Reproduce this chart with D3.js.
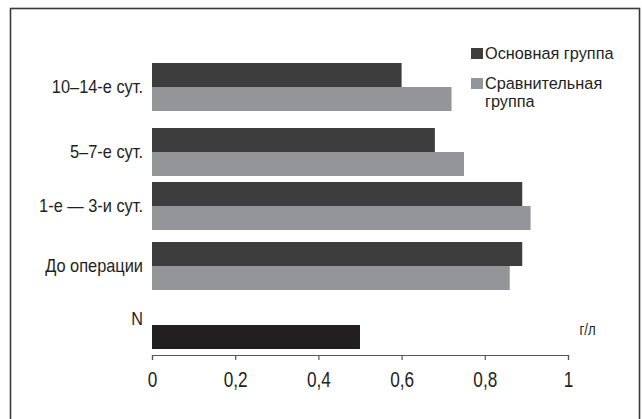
<!DOCTYPE html>
<html><head><meta charset="utf-8">
<script src="https://cdn.jsdelivr.net/npm/d3@7"></script>
<style>
body{margin:0;background:#fff;}
svg{display:block;font-family:"Liberation Sans",Arial,sans-serif;}
</style></head>
<body>
<svg id="chart" width="642" height="419"></svg>
<script>
const categories = ["10–14-е сут.", "5–7-е сут.", "1-е — 3-и сут.", "До операции"];
const seriesNames = ["Основная группа", "Сравнительная группа"];
const mainGroup = [0.60, 0.68, 0.89, 0.89];
const compareGroup = [0.72, 0.75, 0.91, 0.86];
const normLabel = "N";
const normValue = 0.50;
const tickValues = [0, 0.2, 0.4, 0.6, 0.8, 1];
const unitLabel = "г/л";

const colors = {main: "#3d3d3e", compare: "#949598", norm: "#231f20", text: "#231f20"};

const svg = d3.select("#chart");

function addText(parent, x, y, str, size, sx, anchor) {
  const gg = parent.append("g").attr("transform", `translate(${x},${y}) scale(${sx},1)`);
  return gg.append("text").attr("x", 0).attr("y", 0)
    .attr("text-anchor", anchor || "start")
    .attr("font-size", size).attr("fill", colors.text).text(str);
}

// frame
svg.append("rect").attr("x", 10.5).attr("y", 8.5).attr("width", 629).attr("height", 420)
  .attr("fill", "none").attr("stroke", "#3a3a3a").attr("stroke-width", 1.6);

const x = d3.scaleLinear().domain([0, 1]).range([152, 568]);
const groupTop = d3.scaleOrdinal().domain(categories).range([63, 128, 182, 242]);
const sub = d3.scaleBand().domain(["main", "compare"]).range([0, 48]);

const rows = categories.map((c, i) => ({cat: c, main: mainGroup[i], compare: compareGroup[i]}));

const g = svg.append("g");
rows.forEach(r => {
  ["main", "compare"].forEach(k => {
    g.append("rect")
      .attr("x", x(0))
      .attr("y", groupTop(r.cat) + sub(k))
      .attr("width", x(r[k]) - x(0))
      .attr("height", sub.bandwidth())
      .attr("fill", colors[k]);
  });
  addText(g, 143, groupTop(r.cat) + sub.bandwidth() + 5.5, r.cat, 18, 0.91, "end");
});

// norm bar
const normY = d3.scaleBand().domain([normLabel]).range([325, 349]);
g.append("rect")
  .attr("x", x(0)).attr("y", normY(normLabel))
  .attr("width", x(normValue) - x(0)).attr("height", normY.bandwidth())
  .attr("fill", colors.norm);
addText(g, 143, 325, normLabel, 18, 0.9, "end");

// axis
const axis = d3.axisBottom(x).tickValues(tickValues)
  .tickFormat(d => String(d).replace(".", ","))
  .tickSizeInner(5).tickSizeOuter(5);
const ax = svg.append("g").attr("transform", "translate(0,355)").call(axis);
ax.select(".domain").attr("stroke", "#555").attr("stroke-width", 1.2);
ax.selectAll(".tick line").attr("stroke", "#555").attr("stroke-width", 1.2);
ax.selectAll(".tick text").attr("y", 32).attr("dy", 0)
  .attr("font-size", 21.5).attr("fill", colors.text)
  .attr("font-family", "'Liberation Sans',Arial,sans-serif")
  .attr("transform", "scale(0.8,1)");

addText(svg, 587.5, 335, unitLabel, 16, 0.82, "middle");

// legend
const legend = svg.append("g");
const legItems = [
  {key: "main", lines: ["Основная группа"], y: 59},
  {key: "compare", lines: ["Сравнительная", "группа"], y: 89}
];
legItems.forEach(it => {
  legend.append("rect").attr("x", 471).attr("y", it.y - 11).attr("width", 12).attr("height", 11)
    .attr("fill", colors[it.key]);
  const gg = legend.append("g").attr("transform", `translate(485,${it.y}) scale(0.97,1)`);
  const t = gg.append("text").attr("x", 0).attr("y", 0)
    .attr("font-size", 16.8).attr("fill", colors.text);
  it.lines.forEach((l, i) => t.append("tspan").attr("x", 0).attr("dy", i ? 18 : 0).text(l));
});
</script>
</body></html>
